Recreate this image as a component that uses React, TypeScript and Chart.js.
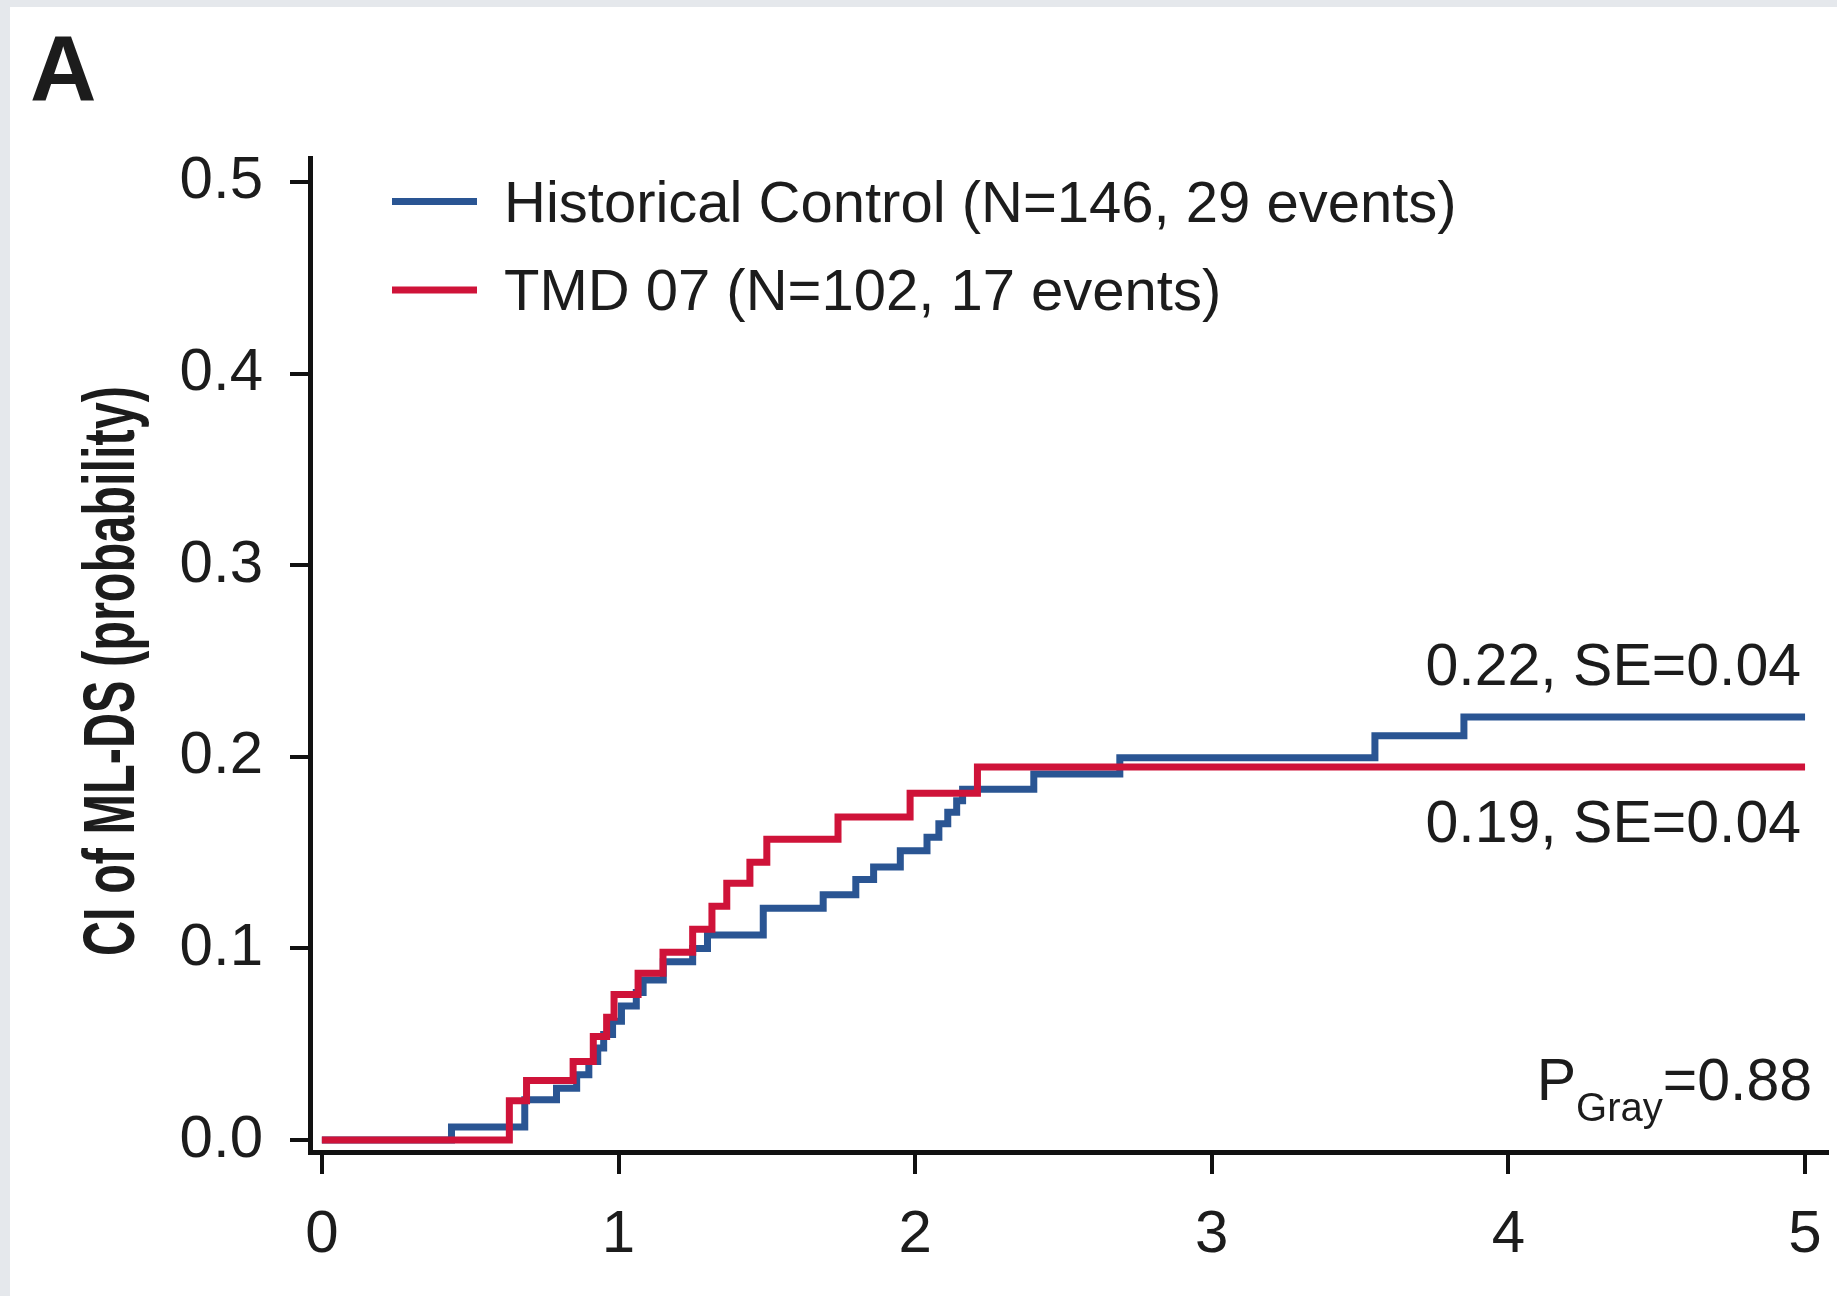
import React, { useEffect, useRef } from "react";
import { Chart, registerables } from "chart.js";

Chart.register(...registerables);

// ---- data ----
const seriesLabels = ["Historical Control (N=146, 29 events)", "TMD 07 (N=102, 17 events)"];
const seriesColors = ["#2a5593", "#cf1339"];

const blueTimes = [0, 0.437, 0.684, 0.791, 0.859, 0.9, 0.93, 0.95, 0.98, 1.01, 1.06, 1.083, 1.151, 1.25, 1.3, 1.488, 1.69, 1.8, 1.86, 1.95, 2.04, 2.08, 2.11, 2.14, 2.16, 2.4, 2.69, 3.55, 3.85, 5.0];
const blueValues = [0, 0.0068, 0.021, 0.027, 0.034, 0.041, 0.048, 0.055, 0.062, 0.07, 0.077, 0.0835, 0.093, 0.1, 0.107, 0.121, 0.128, 0.136, 0.1425, 0.151, 0.158, 0.165, 0.171, 0.177, 0.183, 0.191, 0.1995, 0.211, 0.2207, 0.2207];

const redTimes = [0, 0.632, 0.69, 0.847, 0.915, 0.96, 0.985, 1.066, 1.15, 1.25, 1.315, 1.365, 1.443, 1.5, 1.74, 1.983, 2.21, 5.0];
const redValues = [0, 0.0205, 0.031, 0.041, 0.054, 0.064, 0.076, 0.087, 0.098, 0.11, 0.122, 0.134, 0.145, 0.157, 0.1686, 0.181, 0.1947, 0.1947];

const xTicks = [0, 1, 2, 3, 4, 5];
const yTicks = [0, 0.1, 0.2, 0.3, 0.4, 0.5];

const yTitle = "CI of ML-DS (probability)";
const panelLabel = "A";
const endLabelBlue = "0.22, SE=0.04";
const endLabelRed = "0.19, SE=0.04";
const pMain = "P";
const pSub = "Gray";
const pValue = "=0.88";

// ---- layout ----
const CW = 1827;
const CH = 1289;
const FONT = "'Liberation Sans', Arial, Helvetica, sans-serif";
const TEXT = "#1c1c1c";
const AXIS = "#111111";

const toPoints = (xs: number[], ys: number[]) => xs.map((x, i) => ({ x, y: ys[i] }));

const overlayPlugin = {
  id: "overlay",
  afterDraw(chart: any) {
    const ctx = chart.ctx as CanvasRenderingContext2D;
    const xs = chart.scales.x;
    const ys = chart.scales.y;
    const ds = chart.data.datasets;
    ctx.save();
    ctx.fillStyle = TEXT;

    // panel label
    ctx.font = `bold 92px ${FONT}`;
    ctx.textAlign = "left";
    ctx.textBaseline = "alphabetic";
    ctx.fillText(panelLabel, 20, 93);

    // legend (Historical first)
    const legendOrder = [0, 1];
    const rows = [194.5, 283];
    const baselines = [214.7, 303];
    legendOrder.forEach((di, r) => {
      const d = ds[di];
      ctx.strokeStyle = d.borderColor;
      ctx.lineWidth = 7;
      ctx.lineCap = "butt";
      ctx.beginPath();
      ctx.moveTo(382, rows[r]);
      ctx.lineTo(467, rows[r]);
      ctx.stroke();
      ctx.fillStyle = TEXT;
      ctx.font = `58px ${FONT}`;
      ctx.textAlign = "left";
      ctx.fillText(d.label, 494, baselines[r]);
    });

    // end labels
    const x5 = xs.getPixelForValue(5);
    ctx.font = `59px ${FONT}`;
    ctx.textAlign = "right";
    ctx.fillText(endLabelBlue, x5 - 4, ys.getPixelForValue(blueValues[blueValues.length - 1]) - 32);
    ctx.fillText(endLabelRed, x5 - 4, ys.getPixelForValue(redValues[redValues.length - 1]) + 75);

    // P_Gray
    const pRight = x5 + 7;
    const pBase = ys.getPixelForValue(0) - 40;
    ctx.font = `59px ${FONT}`;
    const wVal = ctx.measureText(pValue).width;
    ctx.fillText(pValue, pRight, pBase);
    ctx.font = `40px ${FONT}`;
    const wSub = ctx.measureText(pSub).width;
    ctx.fillText(pSub, pRight - wVal, pBase + 21);
    ctx.font = `59px ${FONT}`;
    ctx.fillText(pMain, pRight - wVal - wSub, pBase);

    // y title (condensed)
    ctx.save();
    ctx.translate(124, 664);
    ctx.rotate(-Math.PI / 2);
    ctx.font = `bold 73px ${FONT}`;
    const tw = ctx.measureText(yTitle).width;
    ctx.scale(570 / tw, 1);
    ctx.textAlign = "center";
    ctx.textBaseline = "alphabetic";
    ctx.fillText(yTitle, 0, 0);
    ctx.restore();

    ctx.restore();
  },
};

export default function App() {
  const ref = useRef<HTMLCanvasElement | null>(null);

  useEffect(() => {
    document.body.style.margin = "0";
    const canvas = ref.current;
    if (!canvas) return;
    const chart = new Chart(canvas, {
      type: "line",
      data: {
        datasets: [
          {
            label: seriesLabels[0],
            data: toPoints(blueTimes, blueValues),
            borderColor: seriesColors[0],
            backgroundColor: seriesColors[0],
            borderWidth: 7,
            stepped: "before",
            pointRadius: 0,
            fill: false,
            order: 2,
          },
          {
            label: seriesLabels[1],
            data: toPoints(redTimes, redValues),
            borderColor: seriesColors[1],
            backgroundColor: seriesColors[1],
            borderWidth: 7,
            stepped: "before",
            pointRadius: 0,
            fill: false,
            order: 1,
          },
        ],
      },
      options: {
        responsive: false,
        animation: false,
        devicePixelRatio: 1,
        layout: { padding: { top: 151, right: 10, left: 0, bottom: 0 } },
        plugins: {
          legend: { display: false },
          tooltip: { enabled: false },
          title: { display: false },
        },
        scales: {
          x: {
            type: "linear",
            min: -0.04,
            max: 5.074,
            afterBuildTicks: (s: any) => {
              s.ticks = xTicks.map((v) => ({ value: v }));
            },
            afterFit: (s: any) => {
              s.height = 144;
              s.paddingLeft = 0;
              s.paddingRight = 0;
            },
            grid: {
              display: true,
              drawOnChartArea: false,
              drawTicks: true,
              tickLength: 22,
              lineWidth: 4,
              color: AXIS,
              tickColor: AXIS,
            },
            border: { display: true, color: AXIS, width: 5 },
            ticks: {
              autoSkip: false,
              maxRotation: 0,
              padding: 25,
              color: TEXT,
              font: { family: FONT, size: 60 },
              callback: (v: any) => String(Math.round(Number(v))),
            },
          },
          y: {
            type: "linear",
            min: -0.00626,
            max: 0.5125,
            afterBuildTicks: (s: any) => {
              s.ticks = yTicks.map((v) => ({ value: v }));
            },
            afterFit: (s: any) => {
              s.width = 300;
              s.paddingTop = 0;
              s.paddingBottom = 0;
            },
            grid: {
              display: true,
              drawOnChartArea: false,
              drawTicks: true,
              tickLength: 20,
              lineWidth: 4,
              color: AXIS,
              tickColor: AXIS,
            },
            border: { display: true, color: AXIS, width: 5 },
            ticks: {
              autoSkip: false,
              padding: 27,
              color: TEXT,
              font: { family: FONT, size: 60 },
              callback: (v: any) => Number(v).toFixed(1),
            },
          },
        },
      },
      plugins: [overlayPlugin],
    } as any);
    return () => chart.destroy();
  }, []);

  return (
    <div
      style={{
        position: "relative",
        width: 1837,
        height: 1296,
        background: "#e5e8ec",
        overflow: "hidden",
      }}
    >
      <canvas
        ref={ref}
        width={CW}
        height={CH}
        style={{
          position: "absolute",
          left: 10,
          top: 7,
          width: CW,
          height: CH,
          background: "#ffffff",
          display: "block",
        }}
      />
    </div>
  );
}
